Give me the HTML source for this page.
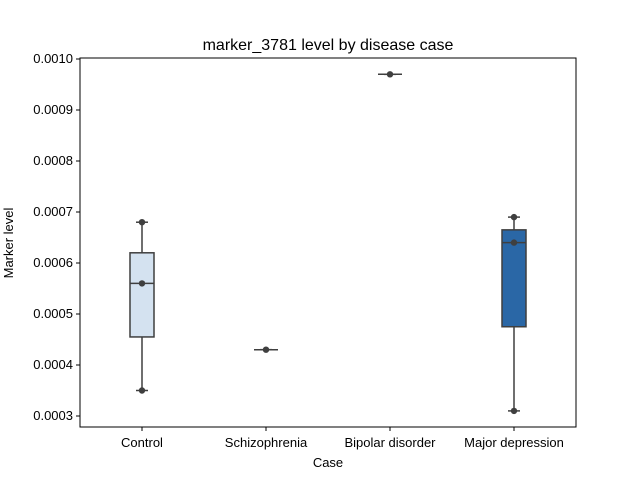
<!DOCTYPE html>
<html><head><meta charset="utf-8"><style>
body{margin:0;background:#fff}
svg{display:block;font-family:"Liberation Sans","DejaVu Sans",sans-serif}
</style></head><body>
<svg id="chart" width="640" height="480">
<rect x="0" y="0" width="640" height="480" fill="#fff"/>
<text x="328" y="50" text-anchor="middle" font-size="16">marker_3781 level by disease case</text>
<g id="yaxis"></g><g id="xaxis"></g><g id="marks"></g>
<rect x="80" y="58" width="496" height="369" fill="none" stroke="#000" stroke-width="1"/>
<text x="328" y="467" text-anchor="middle" font-size="13">Case</text>
<text transform="translate(13,243) rotate(-90)" text-anchor="middle" font-size="13">Marker level</text>
</svg>
<script>
const categories=["Control","Schizophrenia","Bipolar disorder","Major depression"];
const whiskLo=[0.00035,0.00043,0.00097,0.00031];
const q1=[0.000455,0.00043,0.00097,0.000475];
const medians=[0.00056,0.00043,0.00097,0.00064];
const q3=[0.00062,0.00043,0.00097,0.000665];
const whiskHi=[0.00068,0.00043,0.00097,0.00069];
const points=[[0.00068,0.00056,0.00035],[0.00043],[0.00097],[0.00069,0.00064,0.00031]];
const colors=["#d4e2f0","#9cc0de","#5b9bcc","#2a67a6"];
const yTicks=[0.0003,0.0004,0.0005,0.0006,0.0007,0.0008,0.0009,0.0010];
const NS="http://www.w3.org/2000/svg";
const y=v=>416-(v-0.0003)*510000;
const x=i=>80+124*(i+0.5);
function mk(p,t,a){const e=document.createElementNS(NS,t);for(const k in a)e.setAttribute(k,a[k]);p.appendChild(e);return e;}
const ya=document.getElementById('yaxis'),xa=document.getElementById('xaxis'),mg=document.getElementById('marks');
yTicks.forEach(v=>{
 const l=mk(ya,'line',{x1:76,x2:80,y1:y(v),y2:y(v),stroke:'#000'});
 
 
 const t=mk(ya,'text',{x:73,y:y(v)+4,'text-anchor':'end','font-size':13});
 
 
 t.textContent=v.toFixed(4);
});
categories.forEach((c,i)=>{
 const l=mk(xa,'line',{x1:x(i),x2:x(i),y1:427,y2:431,stroke:'#000'});
 
 
 const t=mk(xa,'text',{x:x(i),y:447,'text-anchor':'middle','font-size':13});
 
 
 t.textContent=c;
 const g=mk(mg,'g',{});
 
 
 const cx=x(i),w=24,s='#3f3f3f';
 mk(g,'line',{x1:cx,x2:cx,y1:y(whiskHi[i]),y2:y(q3[i]),stroke:s,'stroke-width':1.5});
 mk(g,'line',{x1:cx,x2:cx,y1:y(q1[i]),y2:y(whiskLo[i]),stroke:s,'stroke-width':1.5});
 mk(g,'line',{x1:cx-6,x2:cx+6,y1:y(whiskHi[i]),y2:y(whiskHi[i]),stroke:s,'stroke-width':1.5});
 mk(g,'line',{x1:cx-6,x2:cx+6,y1:y(whiskLo[i]),y2:y(whiskLo[i]),stroke:s,'stroke-width':1.5});
 mk(g,'rect',{x:cx-w/2,y:y(q3[i]),width:w,height:Math.max(0,y(q1[i])-y(q3[i])),fill:colors[i],stroke:s,'stroke-width':1.5});
 mk(g,'line',{x1:cx-w/2,x2:cx+w/2,y1:y(medians[i]),y2:y(medians[i]),stroke:s,'stroke-width':1.5});
 points[i].forEach(v=>{
  const p=mk(g,'circle',{cx:cx,cy:y(v),r:3.2,fill:'#3f3f3f'});
  
  
 });
});
</script>
</body></html>
